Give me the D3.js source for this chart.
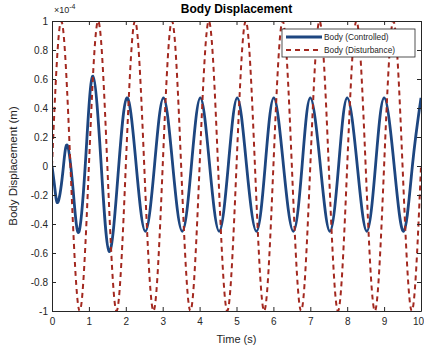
<!DOCTYPE html>
<html>
<head>
<meta charset="utf-8">
<script src="https://cdn.jsdelivr.net/npm/d3@7"></script>
<style>
  body { margin: 0; background: #fff; }
  text { font-family: "Liberation Sans", Arial, Helvetica, sans-serif; }
</style>
</head>
<body>
<div id="canvas"></div>
<script>
"use strict"

/* ---------- data (units of 1e-4 m) ---------- */
// disturbance: read at quarter periods (period ~1 s)
let distTime = [0, 0.25, 0.5, 0.75, 1, 1.25, 1.5, 1.75, 2, 2.25, 2.5, 2.75, 3, 3.25, 3.5, 3.75,
  4, 4.25, 4.5, 4.75, 5, 5.25, 5.5, 5.75, 6, 6.25, 6.5, 6.75, 7, 7.25, 7.5, 7.75,
  8, 8.25, 8.5, 8.75, 9, 9.25, 9.5, 9.75, 10];
let distValue = [0, 1, 0, -1, 0, 1, 0, -1, 0, 1, 0, -1, 0, 1, 0, -1,
  0, 1, 0, -1, 0, 1, 0, -1, 0, 1, 0, -1, 0, 1, 0, -1,
  0, 1, 0, -1, 0, 1, 0, -1, 0];

// controlled: extrema and mid points
let ctrlTime = [0, 0.08, 0.16, 0.29, 0.41, 0.57, 0.73, 0.92, 1.11, 1.33, 1.55, 1.79, 2.03, 2.28, 2.53,
  2.78, 3.02, 3.27, 3.53, 3.78, 4.02, 4.27, 4.53, 4.78, 5.02, 5.27, 5.54, 5.78, 6.01,
  6.27, 6.54, 6.78, 7.0, 7.27, 7.53, 7.77, 8.0, 8.27, 8.53, 8.77, 9.0, 9.27, 9.53, 9.77, 10];
let ctrlValue = [0, -0.16, -0.25, -0.05, 0.145, -0.16, -0.455, 0.08, 0.62, 0.02, -0.59, -0.06, 0.47, 0.01, -0.45,
  0.01, 0.47, 0.01, -0.45, 0.01, 0.47, 0.01, -0.45, 0.01, 0.47, 0.01, -0.45, 0.01, 0.47,
  0.01, -0.45, 0.01, 0.47, 0.01, -0.45, 0.01, 0.47, 0.01, -0.45, 0.01, 0.47, 0.01, -0.45, 0.01, 0.47];

let xTicks = [0, 1, 2, 3, 4, 5, 6, 7, 8, 9, 10];
let yTicks = [-1, -0.8, -0.6, -0.4, -0.2, 0, 0.2, 0.4, 0.6, 0.8, 1];
let seriesNames = ["Body (Controlled)", "Body (Disturbance)"];

/* ---------- canvas ---------- */
let drawing = d3.select("#canvas")
  .append("svg")
  .attr("width", 424)
  .attr("height", 351);

let plotLeft = 52, plotRight = 421, plotTop = 21, plotBottom = 311;
let axisColor = "#262626";
let blue = "#1d4680";
let red = "#a3281f";

let x = d3.scaleLinear().domain([0, 10]).range([plotLeft, plotRight]);
let y = d3.scaleLinear().domain([-1, 1]).range([plotBottom, plotTop]);

drawing.append("clipPath").attr("id", "plotClip")
  .append("rect")
  .attr("x", plotLeft).attr("y", plotTop)
  .attr("width", plotRight - plotLeft).attr("height", plotBottom - plotTop);

/* ---------- lines ---------- */
let distLine = d3.line()
  .x(i => x(distTime[i]))
  .y(i => y(distValue[i]))
  .curve(d3.curveNatural);

let ctrlLine = d3.line()
  .x(i => x(ctrlTime[i]))
  .y(i => y(ctrlValue[i]))
  .curve(d3.curveNatural);

let plot = drawing.append("g").attr("clip-path", "url(#plotClip)");

plot.append("path")
  .attr("d", ctrlLine(d3.range(ctrlTime.length)))
  .attr("fill", "none")
  .attr("stroke", blue)
  .attr("stroke-width", 2.8);

plot.append("path")
  .attr("d", distLine(d3.range(distTime.length)))
  .attr("fill", "none")
  .attr("stroke", red)
  .attr("stroke-width", 2)
  .attr("stroke-dasharray", "5,4");

/* ---------- axes ---------- */
function styleAxis(g) {
  g.select(".domain").attr("stroke", axisColor);
  g.selectAll(".tick line").attr("stroke", axisColor);
  g.selectAll(".tick text").attr("fill", axisColor)
    .style("font-family", "'Liberation Sans', Arial, sans-serif")
    .style("font-size", "10px");
}

let xAxisBottom = drawing.append("g")
  .attr("transform", `translate(0,${plotBottom})`)
  .call(d3.axisBottom(x).tickValues(xTicks).tickSizeInner(-4).tickSizeOuter(0).tickPadding(7))
  .call(styleAxis);

// last label sits at the window edge: pull it inside
xAxisBottom.selectAll(".tick text")
  .filter(d => d === 10)
  .attr("text-anchor", "end")
  .attr("x", 2.5);

drawing.append("g")
  .attr("transform", `translate(0,${plotTop})`)
  .call(d3.axisTop(x).tickValues(xTicks).tickSizeInner(-4).tickSizeOuter(0).tickFormat(""))
  .call(styleAxis);

drawing.append("g")
  .attr("transform", `translate(${plotLeft},0)`)
  .call(d3.axisLeft(y).tickValues(yTicks).tickSizeInner(-4).tickSizeOuter(0).tickPadding(4)
    .tickFormat(d => String(+d.toFixed(1))))
  .call(styleAxis);

drawing.append("g")
  .attr("transform", `translate(${plotRight},0)`)
  .call(d3.axisRight(y).tickValues(yTicks).tickSizeInner(-4).tickSizeOuter(0).tickFormat(""))
  .call(styleAxis);

/* ---------- texts ---------- */
drawing.append("text")
  .attr("x", (plotLeft + plotRight) / 2).attr("y", 13)
  .attr("text-anchor", "middle")
  .attr("font-size", 12).attr("font-weight", "bold")
  .attr("fill", "#000")
  .text("Body Displacement");

let expo = drawing.append("text")
  .attr("x", plotLeft + 2).attr("y", 13)
  .attr("font-size", 9)
  .attr("fill", axisColor);
expo.append("tspan").text("\u00d710");
expo.append("tspan").attr("dy", -4).attr("font-size", 7).text("-4");

drawing.append("text")
  .attr("x", (plotLeft + plotRight) / 2).attr("y", 343)
  .attr("text-anchor", "middle")
  .attr("font-size", 11)
  .attr("fill", axisColor)
  .text("Time (s)");

drawing.append("text")
  .attr("transform", `translate(17,${(plotTop + plotBottom) / 2}) rotate(-90)`)
  .attr("text-anchor", "middle")
  .attr("font-size", 11.5)
  .attr("fill", axisColor)
  .text("Body Displacement (m)");

/* ---------- legend ---------- */
let legend = drawing.append("g");
legend.append("rect")
  .attr("x", 282).attr("y", 29)
  .attr("width", 133).attr("height", 28)
  .attr("fill", "#fff")
  .attr("stroke", axisColor)
  .attr("stroke-width", 0.8);

let legendStyles = [
  { color: blue, width: 2.8, dash: null },
  { color: red, width: 2, dash: "5,4" }
];

seriesNames.forEach((name, i) => {
  let ly = 37 + i * 13;
  legend.append("line")
    .attr("x1", 286).attr("x2", 322)
    .attr("y1", ly).attr("y2", ly)
    .attr("stroke", legendStyles[i].color)
    .attr("stroke-width", legendStyles[i].width)
    .attr("stroke-dasharray", legendStyles[i].dash);
  legend.append("text")
    .attr("x", 324).attr("y", ly + 3)
    .attr("font-size", 8.3)
    .attr("fill", axisColor)
    .text(name);
});
</script>
</body>
</html>
